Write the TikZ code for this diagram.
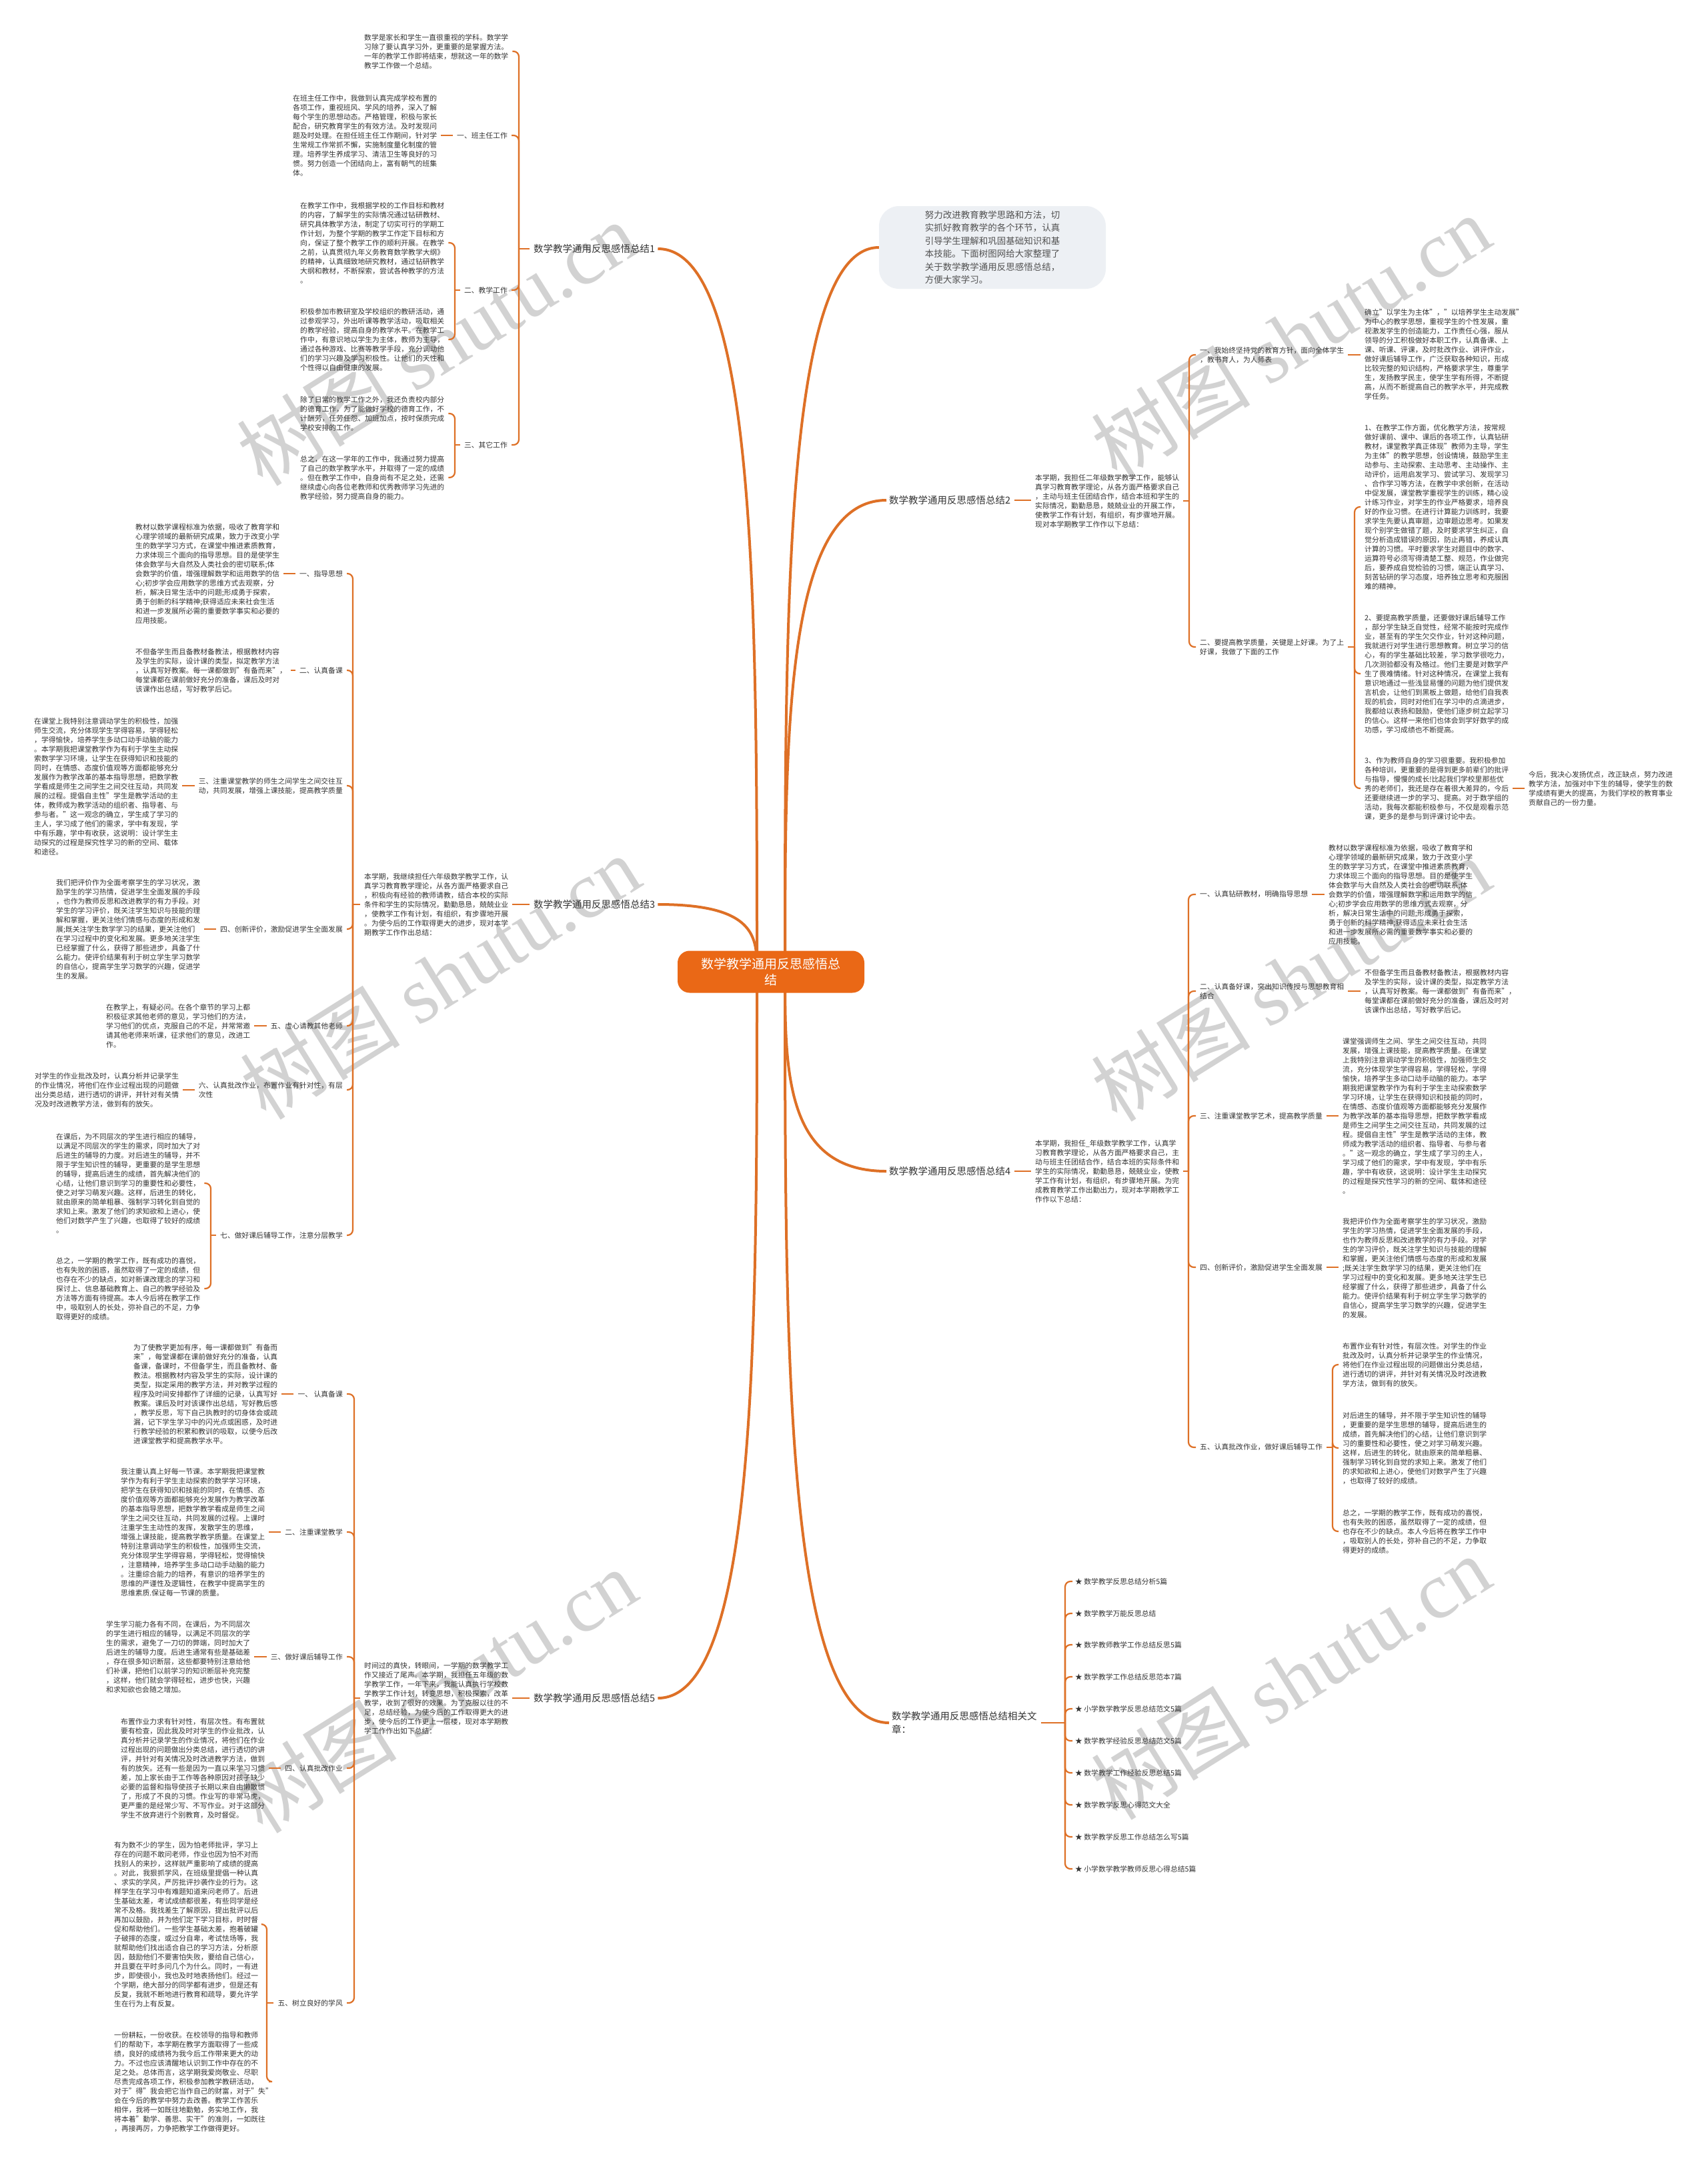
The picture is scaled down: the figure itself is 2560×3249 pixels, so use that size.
\documentclass[tikz,border=0pt]{standalone}
\usepackage{fontspec}
\setmainfont{Noto Sans CJK SC}
\newfontfamily\wmlat{Liberation Serif}
\usetikzlibrary{calc}
\definecolor{lineor}{RGB}{222,112,38}
\definecolor{centeror}{RGB}{234,104,22}
\definecolor{txtc}{RGB}{51,51,51}
\definecolor{bubblec}{RGB}{237,240,244}
\definecolor{wmc}{RGB}{210,210,210}
\pgfdeclarelayer{bg}
\pgfsetlayers{bg,main}
\tikzset{
  para/.style={font=\fontsize{10.8}{14}\selectfont, align=left, inner sep=0pt, text=txtc},
  lone/.style={font=\fontsize{14.5}{20}\selectfont, align=left, inner sep=0pt, text=txtc},
  conn/.style={draw=lineor, line width=2.2pt, rounded corners=8pt},
  mainconn/.style={draw=lineor, line width=4pt},
  wmark/.style={rotate=32, text=wmc, font=\fontsize{120}{120}\selectfont, inner sep=0pt},
  centernode/.style={fill=centeror, text=white, rounded corners=18pt, minimum width=280pt, minimum height=63pt, align=center, font=\fontsize{19}{24}\selectfont, inner sep=4pt},
  bubble/.style={fill=bubblec, rounded corners=30pt, align=left, text=txtc!85, font=\fontsize{13.5}{19.5}\selectfont, minimum width=340pt, minimum height=124pt, inner sep=6pt}
}
\begin{document}
\begin{tikzpicture}[x=1pt,y=-1pt]
\useasboundingbox (0,0) rectangle (2560,3249);
% ---------------- centre and first level ----------------
\node[centernode] (C) at (1156,1457) {数学教学通用反思感悟总\\结};
\node[bubble] (BI) at (1488,371) {努力改进教育教学思路和方法，切\\实抓好教育教学的各个环节，认真\\引导学生理解和巩固基础知识和基\\本技能。下面树图网给大家整理了\\关于数学教学通用反思感悟总结，\\方便大家学习。};
\node[lone, anchor=west] (B1) at (800,373) {数学教学通用反思感悟总结1};
\node[lone, anchor=west] (B3) at (800,1356) {数学教学通用反思感悟总结3};
\node[lone, anchor=west] (B5) at (800,2546) {数学教学通用反思感悟总结5};
\node[lone, anchor=west] (B2) at (1333,750) {数学教学通用反思感悟总结2};
\node[lone, anchor=west] (B4) at (1333,1756) {数学教学通用反思感悟总结4};
\node[lone, anchor=west] (BR) at (1337,2583) {数学教学通用反思感悟总结相关文\\章：};
% ---------------- branch 1 ----------------
\node[para, anchor=west] (P1a) at (546,77) {数学是家长和学生一直很重视的学科。数学学\\习除了要认真学习外，更重要的是掌握方法。\\一年的教学工作即将结束，想就这一年的数学\\教学工作做一个总结。};
\node[para, anchor=east] (L11) at (761,203) {一、班主任工作};
\node[para, anchor=west] (P1b) at (439,203) {在班主任工作中，我做到认真完成学校布置的\\各项工作，重视班风、学风的培养，深入了解\\每个学生的思想动态。严格管理，积极与家长\\配合，研究教育学生的有效方法。及时发现问\\题及时处理。在担任班主任工作期间，针对学\\生常规工作常抓不懈，实施制度量化制度的管\\理。培养学生养成学习、清洁卫生等良好的习\\惯。努力创造一个团结向上，富有朝气的班集\\体。};
\node[para, anchor=east] (L12) at (761,435) {二、教学工作};
\node[para, anchor=west] (P1c) at (450,364) {在教学工作中，我根据学校的工作目标和教材\\的内容，了解学生的实际情况通过钻研教材、\\研究具体教学方法，制定了切实可行的学期工\\作计划，为整个学期的教学工作定下目标和方\\向，保证了整个教学工作的顺利开展。在教学\\之前，认真贯彻九年义务教育数学教学大纲》\\的精神，认真细致地研究教材，通过钻研教学\\大纲和教材，不断探索，尝试各种教学的方法\\。};
\node[para, anchor=west] (P1d) at (450,509) {积极参加市教研室及学校组织的教研活动，通\\过参观学习，外出听课等教学活动，吸取相关\\的教学经验，提高自身的教学水平。在教学工\\作中，有意识地以学生为主体，教师为主导，\\通过各种游戏、比赛等教学手段，充分调动他\\们的学习兴趣及学习积极性。让他们的天性和\\个性得以自由健康的发展。};
\node[para, anchor=east] (L13) at (761,667) {三、其它工作};
\node[para, anchor=west] (P1e) at (450,620) {除了日常的教学工作之外，我还负责校内部分\\的德育工作，为了能做好学校的德育工作，不\\计酬劳，任劳任怨、加班加点，按时保质完成\\学校安排的工作。};
\node[para, anchor=west] (P1f) at (450,716) {总之，在这一学年的工作中，我通过努力提高\\了自己的数学教学水平，并取得了一定的成绩\\。但在教学工作中，自身尚有不足之处，还需\\继续虚心向各位老教师和优秀教师学习先进的\\教学经验，努力提高自身的能力。};
% ---------------- branch 3 ----------------
\node[para, anchor=west] (P3i) at (546,1356) {本学期，我继续担任六年级数学教学工作，认\\真学习教育教学理论，从各方面严格要求自己\\，积极向有经验的教师请教，结合本校的实际\\条件和学生的实际情况，勤勤恳恳，兢兢业业\\，使教学工作有计划，有组织，有步骤地开展\\。为使今后的工作取得更大的进步，现对本学\\期教学工作作出总结：};
\node[para, anchor=east] (L31) at (514,860) {一、指导思想};
\node[para, anchor=west] (P3a) at (203,860) {教材以数学课程标准为依据，吸收了教育学和\\心理学领域的最新研究成果，致力于改变小学\\生的数学学习方式，在课堂中推进素质教育，\\力求体现三个面向的指导思想。目的是使学生\\体会数学与大自然及人类社会的密切联系;体\\会数学的价值，增强理解数学和运用数学的信\\心;初步学会应用数学的思维方式去观察，分\\析，解决日常生活中的问题;形成勇于探索，\\勇于创新的科学精神;获得适应未来社会生活\\和进一步发展所必需的重要数学事实和必要的\\应用技能。};
\node[para, anchor=east] (L32) at (514,1005) {二、认真备课};
\node[para, anchor=west] (P3b) at (203,1005) {不但备学生而且备教材备教法，根据教材内容\\及学生的实际，设计课的类型，拟定教学方法\\，认真写好教案。每一课都做到"有备而来"，\\每堂课都在课前做好充分的准备，课后及时对\\该课作出总结，写好教学后记。};
\node[para, anchor=east] (L33) at (514,1178) {三、注重课堂教学的师生之间学生之间交往互\\动，共同发展，增强上课技能，提高教学质量};
\node[para, anchor=west] (P3c) at (51,1179) {在课堂上我特别注意调动学生的积极性，加强\\师生交流，充分体现学生学得容易，学得轻松\\，学得愉快，培养学生多动口动手动脑的能力\\。本学期我把课堂教学作为有利于学生主动探\\索数学学习环境，让学生在获得知识和技能的\\同时，在情感、态度价值观等方面都能够充分\\发展作为教学改革的基本指导思想，把数学教\\学看成是师生之间学生之间交往互动，共同发\\展的过程。提倡自主性"学生是教学活动的主\\体，教师成为教学活动的组织者、指导者、与\\参与者。"这一观念的确立，学生成了学习的\\主人，学习成了他们的需求，学中有发现，学\\中有乐趣，学中有收获，这说明：设计学生主\\动探究的过程是探究性学习的新的空间、载体\\和途径。};
\node[para, anchor=east] (L34) at (514,1393) {四、创新评价，激励促进学生全面发展};
\node[para, anchor=west] (P3d) at (84,1393) {我们把评价作为全面考察学生的学习状况，激\\励学生的学习热情，促进学生全面发展的手段\\，也作为教师反思和改进教学的有力手段。对\\学生的学习评价，既关注学生知识与技能的理\\解和掌握，更关注他们情感与态度的形成和发\\展;既关注学生数学学习的结果，更关注他们\\在学习过程中的变化和发展。更多地关注学生\\已经掌握了什么，获得了那些进步，具备了什\\么能力。使评价结果有利于树立学生学习数学\\的自信心，提高学生学习数学的兴趣，促进学\\生的发展。};
\node[para, anchor=east] (L35) at (514,1538) {五、虚心请教其他老师};
\node[para, anchor=west] (P3e) at (159,1538) {在教学上，有疑必问。在各个章节的学习上都\\积极征求其他老师的意见，学习他们的方法，\\学习他们的优点，克服自己的不足，并常常邀\\请其他老师来听课，征求他们的意见，改进工\\作。};
\node[para, anchor=east] (L36) at (514,1634) {六、认真批改作业，布置作业有针对性，有层\\次性};
\node[para, anchor=west] (P3f) at (52,1634) {对学生的作业批改及时，认真分析并记录学生\\的作业情况，将他们在作业过程出现的问题做\\出分类总结，进行透切的讲评，并针对有关情\\况及时改进教学方法，做到有的放矢。};
\node[para, anchor=east] (L37) at (514,1852) {七、做好课后辅导工作，注意分层教学};
\node[para, anchor=west] (P3g) at (84,1774) {在课后，为不同层次的学生进行相应的辅导，\\以满足不同层次的学生的需求，同时加大了对\\后进生的辅导的力度。对后进生的辅导，并不\\限于学生知识性的辅导，更重要的是学生思想\\的辅导，提高后进生的成绩，首先解决他们的\\心结，让他们意识到学习的重要性和必要性，\\使之对学习萌发兴趣。这样，后进生的转化，\\就由原来的简单粗暴、强制学习转化到自觉的\\求知上来。激发了他们的求知欲和上进心，使\\他们对数学产生了兴趣，也取得了较好的成绩\\。};
\node[para, anchor=west] (P3h) at (84,1932) {总之，一学期的教学工作，既有成功的喜悦，\\也有失败的困惑，虽然取得了一定的成绩，但\\也存在不少的缺点，如对新课改理念的学习和\\探讨上、信息基础教育上、自己的教学经验及\\方法等方面有待提高。本人今后将在教学工作\\中，吸取别人的长处，弥补自己的不足，力争\\取得更好的成绩。};
% ---------------- branch 5 ----------------
\node[para, anchor=west] (P5i) at (546,2546) {时间过的真快，转眼间，一学期的数学教学工\\作又接近了尾声。本学期，我担任五年级的数\\学教学工作，一年下来，我能认真执行学校数\\学教学工作计划，转变思想，积极探索，改革\\教学，收到了很好的效果。为了克服以往的不\\足，总结经验，为使今后的工作取得更大的进\\步，使今后的工作更上一层楼，现对本学期教\\学工作作出如下总结：};
\node[para, anchor=east] (L51) at (514,2090) {一、 认真备课};
\node[para, anchor=west] (P5a) at (200,2090) {为了使教学更加有序，每一课都做到"有备而\\来"，每堂课都在课前做好充分的准备，认真\\备课，备课时，不但备学生，而且备教材、备\\教法。根据教材内容及学生的实际，设计课的\\类型，拟定采用的教学方法，并对教学过程的\\程序及时间安排都作了详细的记录，认真写好\\教案。课后及时对该课作出总结，写好教后感\\，教学反思，写下自己执教时的切身体会或疏\\漏，记下学生学习中的闪光点或困惑，及时进\\行教学经验的积累和教训的吸取，以便今后改\\进课堂教学和提高教学水平。};
\node[para, anchor=east] (L52) at (514,2297) {二、注重课堂教学};
\node[para, anchor=west] (P5b) at (181,2297) {我注重认真上好每一节课。本学期我把课堂教\\学作为有利于学生主动探索的数学学习环境，\\把学生在获得知识和技能的同时，在情感、态\\度价值观等方面都能够充分发展作为教学改革\\的基本指导思想，把数学教学看成是师生之间\\学生之间交往互动，共同发展的过程。上课时\\注重学生主动性的发挥，发散学生的思维，\\增强上课技能，提高教学教学质量。在课堂上\\特别注意调动学生的积极性，加强师生交流，\\充分体现学生学得容易，学得轻松，觉得愉快\\，注意精神，培养学生多动口动手动脑的能力\\。注重综合能力的培养，有意识的培养学生的\\思维的严谨性及逻辑性，在教学中提高学生的\\思维素质.保证每一节课的质量。};
\node[para, anchor=east] (L53) at (514,2484) {三、做好课后辅导工作};
\node[para, anchor=west] (P5c) at (159,2484) {学生学习能力各有不同，在课后，为不同层次\\的学生进行相应的辅导，以满足不同层次的学\\生的需求，避免了一刀切的弊端，同时加大了\\后进生的辅导力度。后进生通常有些是基础差\\，存在很多知识断层，这些都要特别注意给他\\们补课，把他们以前学习的知识断层补充完整\\，这样，他们就会学得轻松，进步也快，兴趣\\和求知欲也会随之增加。};
\node[para, anchor=east] (L54) at (514,2651) {四、认真批改作业};
\node[para, anchor=west] (P5d) at (181,2651) {布置作业力求有针对性，有层次性。有布置就\\要有检查，因此我及时对学生的作业批改，认\\真分析并记录学生的作业情况，将他们在作业\\过程出现的问题做出分类总结，进行透切的讲\\评，并针对有关情况及时改进教学方法，做到\\有的放矢。还有一些是因为一直以来学习习惯\\差，加上家长由于工作等各种原因对孩子缺少\\必要的监督和指导使孩子长期以来自由懒散惯\\了，形成了不良的习惯。作业写的非常马虎，\\更严重的是经常少写、不写作业。对于这部分\\学生不放弃进行个别教育，及时督促。};
\node[para, anchor=east] (L55) at (514,3003) {五、树立良好的学风};
\node[para, anchor=west] (P5e) at (171,2885) {有为数不少的学生，因为怕老师批评，学习上\\存在的问题不敢问老师，作业也因为怕不对而\\找别人的来抄，这样就严重影响了成绩的提高\\。对此，我狠抓学风，在班级里提倡一种认真\\、求实的学风，严厉批评抄袭作业的行为。这\\样学生在学习中有难题知道来问老师了。后进\\生基础太差，考试成绩都很差，有些同学是经\\常不及格。我找差生了解原因，提出批评以后\\再加以鼓励，并为他们定下学习目标，时时督\\促和帮助他们。一些学生基础太差，抱着破罐\\子破摔的态度，或过分自卑，考试怯场等，我\\就帮助他们找出适合自己的学习方法，分析原\\因，鼓励他们不要害怕失败，要给自己信心，\\并且要在平时多问几个为什么。同时，一有进\\步，即使很小，我也及时地表扬他们。经过一\\个学期，绝大部分的同学都有进步，但是还有\\反复，我就不断地进行教育和疏导，要允许学\\生在行为上有反复。};
\node[para, anchor=west] (P5f) at (171,3121) {一份耕耘，一份收获。在校领导的指导和教师\\们的帮助下，本学期在教学方面取得了一些成\\绩，良好的成绩将为我今后工作带来更大的动\\力。不过也应该清醒地认识到工作中存在的不\\足之处。总体而言，这学期我爱岗敬业、尽职\\尽责完成各项工作，积极参加教学教研活动，\\对于"得"我会把它当作自己的财富，对于"失"\\会在今后的教学中努力去改善。教学工作苦乐\\相伴，我将一如既往地勤勉，务实地工作，我\\将本着"勤学、善思、实干"的准则，一如既往\\，再接再厉，力争把教学工作做得更好。};
% ---------------- branch 2 ----------------
\node[para, anchor=west] (P2i) at (1552,751) {本学期，我担任二年级数学教学工作，能够认\\真学习教育教学理论，从各方面严格要求自己\\，主动与班主任团结合作，结合本班和学生的\\实际情况，勤勤恳恳，兢兢业业的开展工作，\\使教学工作有计划，有组织，有步骤地开展。\\现对本学期教学工作作以下总结：};
\node[para, anchor=west] (L21) at (1799,532) {一、我始终坚持党的教育方针，面向全体学生\\，教书育人，为人师表};
\node[para, anchor=west] (P2a) at (2046,531) {确立"以学生为主体"，"以培养学生主动发展"\\为中心的教学思想，重视学生的个性发展，重\\视激发学生的创造能力，工作责任心强，服从\\领导的分工积极做好本职工作，认真备课、上\\课、听课、评课，及时批改作业、讲评作业，\\做好课后辅导工作，广泛获取各种知识，形成\\比较完整的知识结构，严格要求学生，尊重学\\生，发扬教学民主，使学生学有所得，不断提\\高，从而不断提高自己的教学水平，并完成教\\学任务。};
\node[para, anchor=west] (L22) at (1799,970) {二、要提高教学质量，关键是上好课。为了上\\好课，我做了下面的工作};
\node[para, anchor=west] (P2b) at (2046,760) {1、在教学工作方面，优化教学方法，按常规\\做好课前、课中、课后的各项工作，认真钻研\\教材，课堂教学真正体现"教师为主导，学生\\为主体"的教学思想，创设情境，鼓励学生主\\动参与、主动探索、主动思考、主动操作、主\\动评价，运用启发学习、尝试学习、发现学习\\、合作学习等方法，在教学中求创新，在活动\\中促发展，课堂教学重视学生的训练，精心设\\计练习作业，对学生的作业严格要求，培养良\\好的作业习惯。在进行计算能力训练时，我要\\求学生先要认真审题，边审题边思考。如果发\\现个别学生做错了题，及时要求学生纠正，自\\觉分析造成错误的原因，防止再错，养成认真\\计算的习惯。平时要求学生对题目中的数字、\\运算符号必须写得清楚工整、规范，作业做完\\后，要养成自觉检验的习惯，端正认真学习、\\刻苦钻研的学习态度，培养独立思考和克服困\\难的精神。};
\node[para, anchor=west] (P2c) at (2046,1010) {2、要提高教学质量，还要做好课后辅导工作\\，部分学生缺乏自觉性，经常不能按时完成作\\业，甚至有的学生欠交作业，针对这种问题，\\我就进行对学生进行思想教育。树立学习的信\\心，有的学生基础比较差，学习数学很吃力，\\几次测验都没有及格过。他们主要是对数学产\\生了畏难情绪。针对这种情况，在课堂上我有\\意识地通过一些浅显易懂的问题为他们提供发\\言机会，让他们到黑板上做题，给他们自我表\\现的机会，同时对他们在学习中的点滴进步，\\我都给以表扬和鼓励，使他们逐步树立起学习\\的信心。这样一来他们也体会到学好数学的成\\功感，学习成绩也不断提高。};
\node[para, anchor=west] (P2d) at (2046,1182) {3、作为教师自身的学习很重要。我积极参加\\各种培训，更重要的是得到更多前辈们的批评\\与指导，慢慢的成长!比起我们学校里那些优\\秀的老师们，我还是存在着很大差异的，今后\\还要继续进一步的学习、提高。对于数学组的\\活动，我每次都能积极参与，不仅是观看示范\\课，更多的是参与到评课讨论中去。};
\node[para, anchor=west] (P2e) at (2292,1182) {今后，我决心发扬优点，改正缺点，努力改进\\教学方法，加强对中下生的辅导，使学生的数\\学成绩有更大的提高，为我们学校的教育事业\\贡献自己的一份力量。};
% ---------------- branch 4 ----------------
\node[para, anchor=west] (P4i) at (1552,1756) {本学期，我担任\_年级数学教学工作，认真学\\习教育教学理论，从各方面严格要求自己，主\\动与班主任团结合作，结合本班的实际条件和\\学生的实际情况，勤勤恳恳，兢兢业业，使教\\学工作有计划，有组织，有步骤地开展。为完\\成教育教学工作出勤出力，现对本学期教学工\\作作以下总结：};
\node[para, anchor=west] (L41) at (1799,1341) {一、认真钻研教材，明确指导思想};
\node[para, anchor=west] (P4a) at (1992,1341) {教材以数学课程标准为依据，吸收了教育学和\\心理学领域的最新研究成果，致力于改变小学\\生的数学学习方式，在课堂中推进素质教育，\\力求体现三个面向的指导思想。目的是使学生\\体会数学与大自然及人类社会的密切联系;体\\会数学的价值，增强理解数学和运用数学的信\\心;初步学会应用数学的思维方式去观察，分\\析，解决日常生活中的问题;形成勇于探索，\\勇于创新的科学精神;获得适应未来社会生活\\和进一步发展所必需的重要数学事实和必要的\\应用技能。};
\node[para, anchor=west] (L42) at (1799,1486) {二、认真备好课，突出知识传授与思想教育相\\结合};
\node[para, anchor=west] (P4b) at (2046,1486) {不但备学生而且备教材备教法，根据教材内容\\及学生的实际，设计课的类型，拟定教学方法\\，认真写好教案。每一课都做到"有备而来"，\\每堂课都在课前做好充分的准备，课后及时对\\该课作出总结，写好教学后记。};
\node[para, anchor=west] (L43) at (1799,1673) {三、注重课堂教学艺术，提高教学质量};
\node[para, anchor=west] (P4c) at (2013,1673) {课堂强调师生之间、学生之间交往互动，共同\\发展，增强上课技能，提高教学质量。在课堂\\上我特别注意调动学生的积极性，加强师生交\\流，充分体现学生学得容易，学得轻松，学得\\愉快，培养学生多动口动手动脑的能力。本学\\期我把课堂教学作为有利于学生主动探索数学\\学习环境，让学生在获得知识和技能的同时，\\在情感、态度价值观等方面都能够充分发展作\\为教学改革的基本指导思想，把数学教学看成\\是师生之间学生之间交往互动，共同发展的过\\程。提倡自主性"学生是教学活动的主体，教\\师成为教学活动的组织者、指导者、与参与者\\。"这一观念的确立，学生成了学习的主人，\\学习成了他们的需求，学中有发现，学中有乐\\趣，学中有收获，这说明：设计学生主动探究\\的过程是探究性学习的新的空间、载体和途径\\。};
\node[para, anchor=west] (L44) at (1799,1900) {四、创新评价，激励促进学生全面发展};
\node[para, anchor=west] (P4d) at (2013,1901) {我把评价作为全面考察学生的学习状况，激励\\学生的学习热情，促进学生全面发展的手段，\\也作为教师反思和改进教学的有力手段。对学\\生的学习评价，既关注学生知识与技能的理解\\和掌握，更关注他们情感与态度的形成和发展\\;既关注学生数学学习的结果，更关注他们在\\学习过程中的变化和发展。更多地关注学生已\\经掌握了什么，获得了那些进步，具备了什么\\能力。使评价结果有利于树立学生学习数学的\\自信心，提高学生学习数学的兴趣，促进学生\\的发展。};
\node[para, anchor=west] (L45) at (1799,2170) {五、认真批改作业，做好课后辅导工作};
\node[para, anchor=west] (P4e) at (2013,2046) {布置作业有针对性，有层次性。对学生的作业\\批改及时，认真分析并记录学生的作业情况，\\将他们在作业过程出现的问题做出分类总结，\\进行透切的讲评，并针对有关情况及时改进教\\学方法，做到有的放矢。};
\node[para, anchor=west] (P4f) at (2013,2171) {对后进生的辅导，并不限于学生知识性的辅导\\，更重要的是学生思想的辅导，提高后进生的\\成绩，首先解决他们的心结，让他们意识到学\\习的重要性和必要性，使之对学习萌发兴趣。\\这样，后进生的转化，就由原来的简单粗暴、\\强制学习转化到自觉的求知上来。激发了他们\\的求知欲和上进心，使他们对数学产生了兴趣\\，也取得了较好的成绩。};
\node[para, anchor=west] (P4g) at (2013,2296) {总之，一学期的教学工作，既有成功的喜悦，\\也有失败的困惑，虽然取得了一定的成绩，但\\也存在不少的缺点。本人今后将在教学工作中\\，吸取别人的长处，弥补自己的不足，力争取\\得更好的成绩。};
% ---------------- related ----------------
\node[para, anchor=west] (R1) at (1612,2371) {★ 数学教学反思总结分析5篇};
\node[para, anchor=west] (R2) at (1612,2419) {★ 数学教学万能反思总结};
\node[para, anchor=west] (R3) at (1612,2466) {★ 数学教师教学工作总结反思5篇};
\node[para, anchor=west] (R4) at (1612,2514) {★ 数学教学工作总结反思范本7篇};
\node[para, anchor=west] (R5) at (1612,2562) {★ 小学数学教学反思总结范文5篇};
\node[para, anchor=west] (R6) at (1612,2610) {★ 数学教学经验反思总结范文5篇};
\node[para, anchor=west] (R7) at (1612,2658) {★ 数学教学工作经验反思总结5篇};
\node[para, anchor=west] (R8) at (1612,2706) {★ 数学教学反思心得范文大全};
\node[para, anchor=west] (R9) at (1612,2754) {★ 数学教学反思工作总结怎么写5篇};
\node[para, anchor=west] (R10) at (1612,2802) {★ 小学数学教学教师反思心得总结5篇};
% ---------------- connectors ----------------
\begin{pgfonlayer}{bg}
\fill[white] (0,0) rectangle (2560,3249);
\node[wmark] at (655,515) {树图 {\wmlat shutu.cn}};
\node[wmark] at (1935,505) {树图 {\wmlat shutu.cn}};
\node[wmark] at (660,1465) {树图 {\wmlat shutu.cn}};
\node[wmark] at (1935,1468) {树图 {\wmlat shutu.cn}};
\node[wmark] at (655,2535) {树图 {\wmlat shutu.cn}};
\node[wmark] at (1935,2515) {树图 {\wmlat shutu.cn}};
% first level
\draw[mainconn] (1135,1457) .. controls (1135,915) and (1135,373) .. ([xshift=4pt]B1.east);
\draw[mainconn] (1135,1457) .. controls (1135,1406) and (1135,1356) .. ([xshift=4pt]B3.east);
\draw[mainconn] (1135,1457) .. controls (1135,2000) and (1135,2546) .. ([xshift=4pt]B5.east);
\draw[mainconn] (1177,1457) .. controls (1177,914) and (1177,371) .. (BI.west);
\draw[mainconn] (1177,1457) .. controls (1177,1100) and (1177,750) .. ([xshift=-4pt]B2.west);
\draw[mainconn] (1177,1457) .. controls (1177,1606) and (1177,1756) .. ([xshift=-4pt]B4.west);
\draw[mainconn] (1177,1457) .. controls (1177,2020) and (1177,2583) .. ([xshift=-4pt]BR.west);
% branch 1
\draw[conn, shorten <=6pt] (B1.west) -- (778,0 |- B1.west);
\foreach \c in {P1a,L11,L12,L13} \draw[conn, shorten >=6pt] (778,0 |- B1.west) |- (\c.east);
\draw[conn, shorten <=6pt, shorten >=6pt] (L11.west) -- (L11.west -| P1b.east);
\draw[conn, shorten <=6pt] (L12.west) -- (682,0 |- L12.west);
\foreach \c in {P1c,P1d} \draw[conn, shorten >=6pt] (682,0 |- L12.west) |- (\c.east);
\draw[conn, shorten <=6pt] (L13.west) -- (682,0 |- L13.west);
\foreach \c in {P1e,P1f} \draw[conn, shorten >=6pt] (682,0 |- L13.west) |- (\c.east);
% branch 3
\draw[conn, shorten <=6pt, shorten >=6pt] (B3.west) -- (B3.west -| P3i.east);
\draw[conn, shorten <=6pt] (P3i.west) -- (529,0 |- P3i.west);
\foreach \c in {L31,L32,L33,L34,L35,L36,L37} \draw[conn, shorten >=6pt] (529,0 |- P3i.west) |- (\c.east);
\foreach \l/\p in {L31/P3a,L32/P3b,L33/P3c,L34/P3d,L35/P3e,L36/P3f} \draw[conn, shorten <=6pt, shorten >=6pt] (\l.west) -- (\l.west -| \p.east);
\draw[conn, shorten <=6pt] (L37.west) -- (316,0 |- L37.west);
\foreach \c in {P3g,P3h} \draw[conn, shorten >=6pt] (316,0 |- L37.west) |- (\c.east);
% branch 5
\draw[conn, shorten <=6pt, shorten >=6pt] (B5.west) -- (B5.west -| P5i.east);
\draw[conn, shorten <=6pt] (P5i.west) -- (531,0 |- P5i.west);
\foreach \c in {L51,L52,L53,L54,L55} \draw[conn, shorten >=6pt] (531,0 |- P5i.west) |- (\c.east);
\foreach \l/\p in {L51/P5a,L52/P5b,L53/P5c,L54/P5d} \draw[conn, shorten <=6pt, shorten >=6pt] (\l.west) -- (\l.west -| \p.east);
\draw[conn, shorten <=6pt] (L55.west) -- (400,0 |- L55.west);
\foreach \c in {P5e,P5f} \draw[conn, shorten >=6pt] (400,0 |- L55.west) |- (\c.east);
% branch 2
\draw[conn, shorten <=6pt, shorten >=6pt] (B2.east) -- (B2.east -| P2i.west);
\draw[conn, shorten <=6pt] (P2i.east) -- (1783,0 |- P2i.east);
\foreach \c in {L21,L22} \draw[conn, shorten >=6pt] (1783,0 |- P2i.east) |- (\c.west);
\draw[conn, shorten <=6pt, shorten >=6pt] (L21.east) -- (L21.east -| P2a.west);
\draw[conn, shorten <=6pt] (L22.east) -- (2031,0 |- L22.east);
\foreach \c in {P2b,P2c,P2d} \draw[conn, shorten >=6pt] (2031,0 |- L22.east) |- (\c.west);
\draw[conn, shorten <=6pt, shorten >=6pt] (P2e.west) -- (P2e.west -| P2d.east);
% branch 4
\draw[conn, shorten <=6pt, shorten >=6pt] (B4.east) -- (B4.east -| P4i.west);
\draw[conn, shorten <=6pt] (P4i.east) -- (1782,0 |- P4i.east);
\foreach \c in {L41,L42,L43,L44,L45} \draw[conn, shorten >=6pt] (1782,0 |- P4i.east) |- (\c.west);
\foreach \l/\p in {L41/P4a,L42/P4b,L43/P4c,L44/P4d} \draw[conn, shorten <=6pt, shorten >=6pt] (\l.east) -- (\l.east -| \p.west);
\draw[conn, shorten <=6pt] (L45.east) -- (1998,0 |- L45.east);
\foreach \c in {P4e,P4f,P4g} \draw[conn, shorten >=6pt] (1998,0 |- L45.east) |- (\c.west);
% related
\draw[conn, shorten <=6pt] (BR.east) -- (1597,0 |- BR.east);
\foreach \c in {R1,R2,R3,R4,R5,R6,R7,R8,R9,R10} \draw[conn, shorten >=4pt] (1597,0 |- BR.east) |- (\c.west);
\end{pgfonlayer}
\end{tikzpicture}
\end{document}
